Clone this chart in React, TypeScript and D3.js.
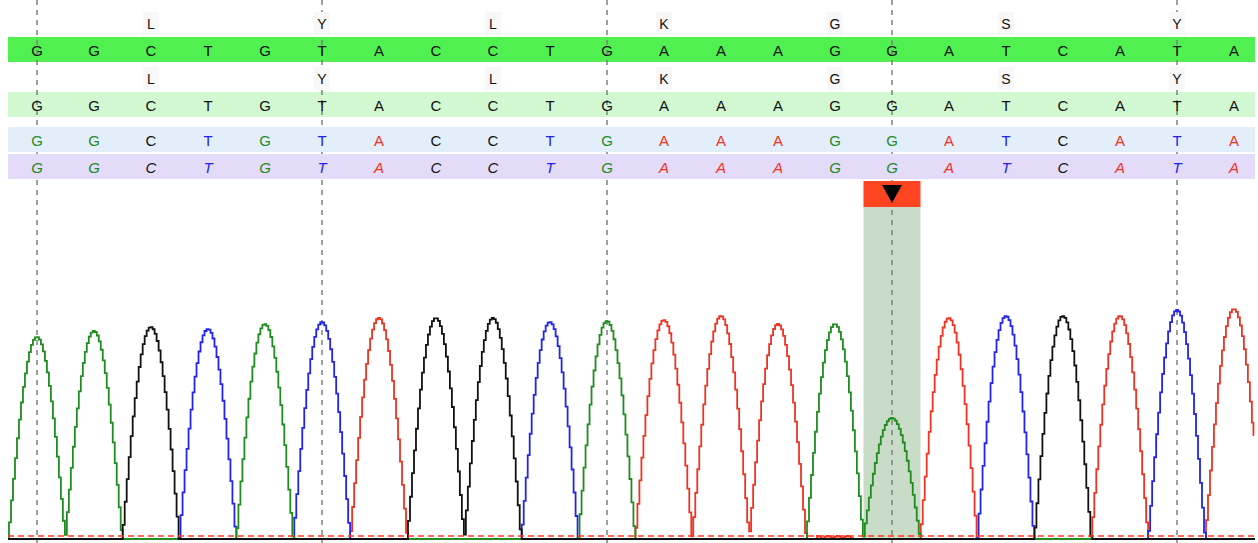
import React from "react";
import * as d3 from "d3";

const BASES = ["G","G","C","T","G","T","A","C","C","T","G","A","A","A","G","G","A","T","C","A","T","A"];
const AMINO_LABELS = ["L","Y","L","K","G","S","Y"];
const AMINO_INDEX = [2,5,8,11,14,17,20];
const PEAK_HEIGHTS = [202,208,212,210,215,217,221,221,221,217,218,219,223,215,215,121,221,223,223,223,229,230];
const NOISE_BASE = ["A"];
const NOISE_INDEX = [14];
const NOISE_HEIGHT = [3];
const MARKER_INDEX = [0,5,10,15,20];
const HIGHLIGHT_INDEX = 15;

const W = 1258, H = 543;
const TRACE_COLORS: Record<string, string> = { A: "#ee3322", C: "#111111", G: "#1e8c1e", T: "#2323f0" };
const CHANNEL_ORDER = ["A", "T", "G", "C"];

export default function App() {
  const x = d3.scaleLinear().domain([0, BASES.length - 1]).range([37, 1234]);
  const y = d3.scaleLinear().domain([0, 250]).range([539, 289]);
  const step = x(1) - x(0);
  const left = 8, right = 1255;
  const pStart = x.invert(left), pEnd = x.invert(1254);
  const halfW = 0.5;

  const samples = d3.range(pStart, pEnd, 0.035).concat([pEnd]);
  const value = (ch: string, p: number) => {
    let v = 0;
    BASES.forEach((b, i) => {
      if (b !== ch) return;
      const d = Math.abs(p - i);
      if (d < halfW) v += PEAK_HEIGHTS[i] * Math.cos((Math.PI / 2) * (d / halfW));
    });
    NOISE_BASE.forEach((b, k) => {
      if (b !== ch) return;
      const d = Math.abs(p - NOISE_INDEX[k]);
      if (d < 0.32) v += NOISE_HEIGHT[k] * Math.abs(Math.sin(p * 18));
    });
    return v;
  };

  const barRows = [
    { y0: 37, y1: 62, fill: "#4ff04f", kind: "plain" },
    { y0: 92, y1: 117, fill: "#d1f8d1", kind: "plain" },
    { y0: 127, y1: 152, fill: "#e3eefb", kind: "color" },
    { y0: 154, y1: 179, fill: "#e3dbf8", kind: "italic" },
  ];
  const aminoRows = [24, 79];
  const font = "'Liberation Sans', Arial, sans-serif";
  const hx = x(HIGHLIGHT_INDEX);

  return (
    <svg width={W} height={H} style={{ position: "fixed", left: 0, top: 0, background: "#fff" }}>
      <rect x={hx - step / 2} y={207} width={step} height={539 - 207} fill="#c8dcc8" />
      {barRows.slice(0, 2).map((r, i) => (
        <rect key={"b" + i} x={left} y={r.y0} width={right - left} height={r.y1 - r.y0} fill={r.fill} />
      ))}
      {MARKER_INDEX.map((m) => (
        <line key={"m" + m} x1={x(m)} x2={x(m)} y1={0} y2={H} stroke="#808080" strokeWidth={1.5} strokeDasharray="5,5" />
      ))}
      {barRows.slice(2).map((r, i) => (
        <rect key={"c" + i} x={left} y={r.y0} width={right - left} height={r.y1 - r.y0} fill={r.fill} />
      ))}
      {aminoRows.map((ry, k) =>
        AMINO_LABELS.map((a, i) => (
          <g key={"a" + k + i}>
            <rect x={x(AMINO_INDEX[i]) - 8} y={ry - 12} width={16} height={23} fill="#f8f8f8" />
            <text x={x(AMINO_INDEX[i])} y={ry} textAnchor="middle" dominantBaseline="central" fontFamily={font} fontSize={14} fill="#111">{a}</text>
          </g>
        ))
      )}
      {barRows.map((r, k) =>
        BASES.map((b, i) => (
          <text key={"t" + k + i} x={x(i)} y={(r.y0 + r.y1) / 2 + 1} textAnchor="middle" dominantBaseline="central"
            fontFamily={font} fontSize={15}
            fontStyle={r.kind === "italic" ? "italic" : "normal"}
            fill={r.kind === "plain" ? "#111" : TRACE_COLORS[b]}>{b}</text>
        ))
      )}
      <rect x={hx - step / 2} y={181} width={step} height={26} fill="#ff4422" />
      <path d={`M${hx - 10},185 L${hx + 10},185 L${hx},203 Z`} fill="#000" />
      <line x1={left} x2={right} y1={539} y2={539} stroke="#111" strokeWidth={2} />
      {CHANNEL_ORDER.map((ch) => {
        const gen = d3.line<number>().x((p) => x(p)).y((p) => y(value(ch, p))).curve(d3.curveStep);
        return <path key={ch} d={gen(samples) || ""} fill="none" stroke={TRACE_COLORS[ch]} strokeWidth={1.8} />;
      })}
      <line x1={left} x2={right} y1={536} y2={536} stroke="#ff3b1f" strokeWidth={1.3} strokeDasharray="6,4" />
    </svg>
  );
}
